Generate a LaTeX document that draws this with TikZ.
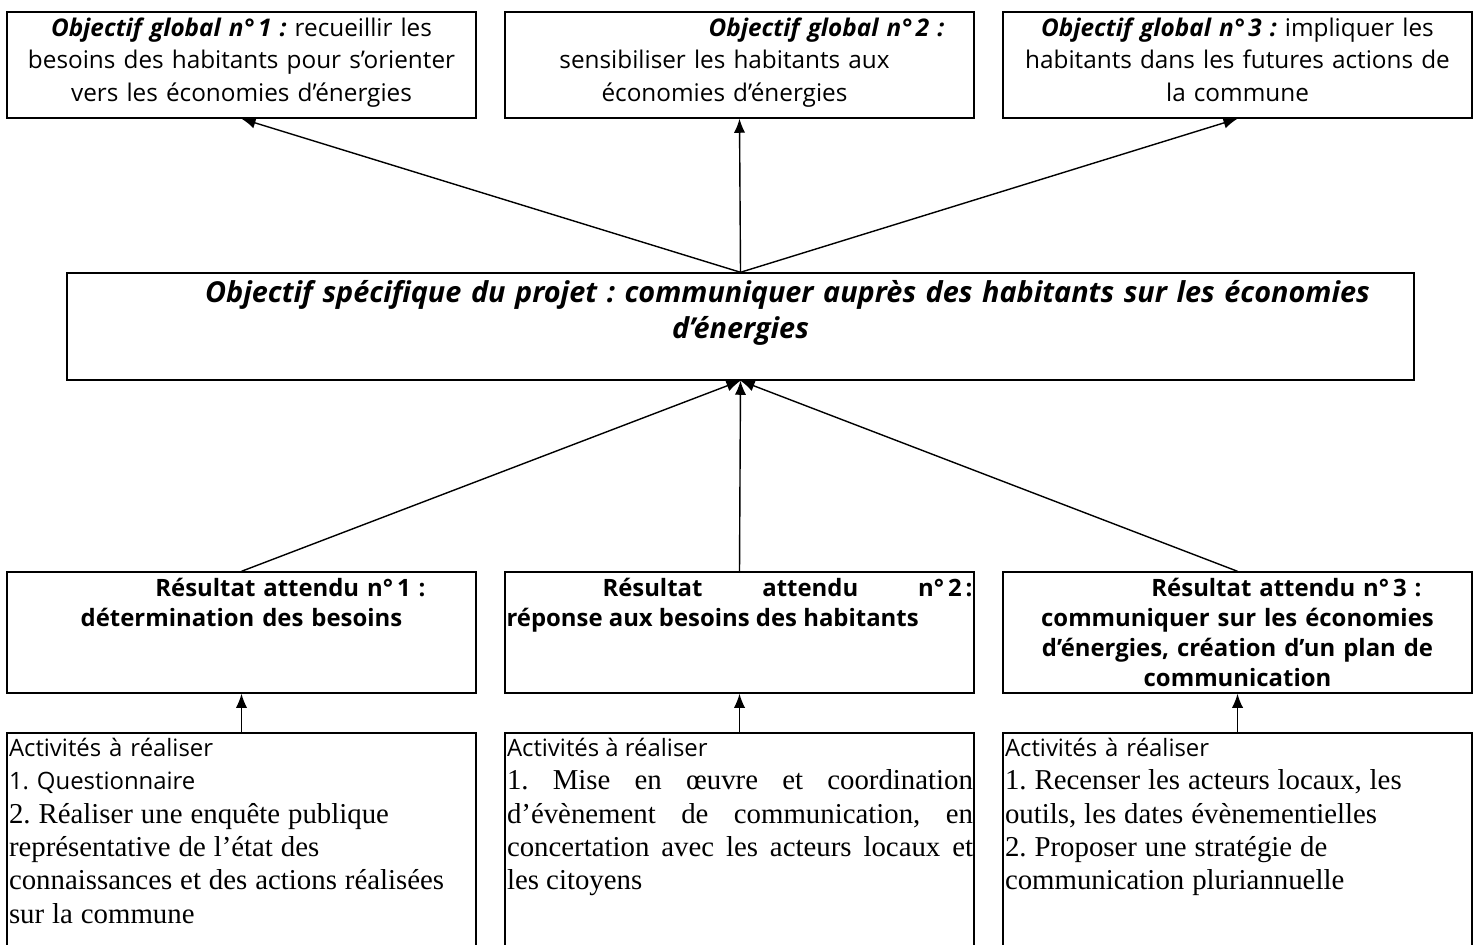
\documentclass[tikz,border=0pt]{standalone}
\usepackage{fontspec}
\setmainfont{Liberation Serif}
\newfontfamily\tah{Open Sans}
\usetikzlibrary{arrows.meta,positioning}

\tikzset{
  >={Latex[length=10pt,width=8pt]},
  boite/.style={draw, line width=1pt, inner sep=0pt, minimum width=11.725cm},
  texte/.style={inner sep=0pt, text width=11.6cm, align=center, font=\tah\fontsize{17.3}{23}\selectfont},
  resultat/.style={texte, font=\tah\fontsize{17}{21.5}\selectfont\bfseries},
  activ/.style={inner sep=0pt, text width=11.65cm, align=left, font=\tah\fontsize{17}{23.8}\selectfont},
}
\newcommand{\serif}{\rmfamily\fontsize{20.5}{23.8}\selectfont}
\frenchspacing

\begin{document}
\begin{tikzpicture}[line width=1pt]
\useasboundingbox (0,0) rectangle (36.95,23.6);

\node[boite, minimum height=2.65cm] (v1) at (6.0375,21.975) {};
\node[boite, minimum height=2.65cm] (v2) at (18.4875,21.975) {};
\node[boite, minimum height=2.65cm] (v3) at (30.9375,21.975) {};
\node[boite, minimum width=33.675cm, minimum height=2.675cm] (v4) at (18.5125,15.4375) {};
\node[boite, minimum height=3.025cm] (v5) at (6.0375,7.7875) {};
\node[boite, minimum height=3.025cm] (v6) at (18.4875,7.7875) {};
\node[boite, minimum height=3.025cm] (v7) at (30.9375,7.7875) {};
\node[boite, minimum height=5.475cm] (v8) at (6.0375,2.5375) {};
\node[boite, minimum height=5.475cm] (v9) at (18.4875,2.5375) {};
\node[boite, minimum height=5.475cm] (v10) at (30.9375,2.5375) {};

\node[texte, below=0.15cm of v1.north] (v11) {\textbf{\textit{Objectif global n°\,1 :}} recueillir les\\besoins des habitants pour s’orienter\\vers les économies d’énergies};
\node[texte, text width=13cm, below=0.15cm of v2.north, xshift=-0.375cm] (v12) {\hspace*{5.1cm}\textbf{\textit{Objectif global n°\,2 :}}\\sensibiliser les habitants aux\\économies d’énergies};
\node[texte, below=0.15cm of v3.north] (v13) {\textbf{\textit{Objectif global n°\,3 :}} impliquer les\\habitants dans les futures actions de\\la commune};
\node[texte, text width=33cm, below=0.18cm of v4.north, font=\tah\fontsize{20.5}{25.5}\selectfont\bfseries\itshape] (v14) {\hspace*{2.35cm}Objectif spécifique du projet : communiquer auprès des habitants sur les économies\\d’énergies};

\node[resultat, below=0.15cm of v5.north] (v15) {\hspace*{2.45cm}Résultat attendu n°\,1 :\\détermination des besoins};
\node[resultat, text width=11.65cm, align=justify, below=0.15cm of v6.north] (v16) {\hspace*{2.4cm}Résultat attendu \mbox{n°\,2\,:}\linebreak réponse aux besoins des habitants};
\node[resultat, below=0.15cm of v7.north] (v17) {\hspace*{2.45cm}Résultat attendu n°\,3 :\\communiquer sur les économies\\d’énergies, création d’un plan de\\communication};

\node[activ, below right=0.12cm and 0.05cm of v8.north west] (v18) {Activités à réaliser\\1. Questionnaire\\{\serif 2. Réaliser une enquête publique\\représentative de l’état des\\connaissances et des actions réalisées\\sur la commune}};
\node[activ, align=justify, below right=0.12cm and 0.05cm of v9.north west] (v19) {Activités à réaliser\\{\serif 1. Mise en œuvre et coordination\linebreak d’évènement de communication, en\linebreak concertation avec les acteurs locaux et\linebreak les citoyens}};
\node[activ, below right=0.12cm and 0.05cm of v10.north west] (v20) {Activités à réaliser\\{\serif 1. Recenser les acteurs locaux, les\\outils, les dates évènementielles\\2. Proposer une stratégie de\\communication pluriannuelle}};

\path [->] (v4.north) edge (v1.south);
\path [->] (v4.north) edge (v2.south);
\path [->] (v4.north) edge (v3.south);
\path [->] (v5.north) edge (v4.south);
\path [->] (v6.north) edge (v4.south);
\path [->] (v7.north) edge (v4.south);
\path [->] (v8.north) edge (v5.south);
\path [->] (v9.north) edge (v6.south);
\path [->] (v10.north) edge (v7.south);
\end{tikzpicture}
\end{document}
